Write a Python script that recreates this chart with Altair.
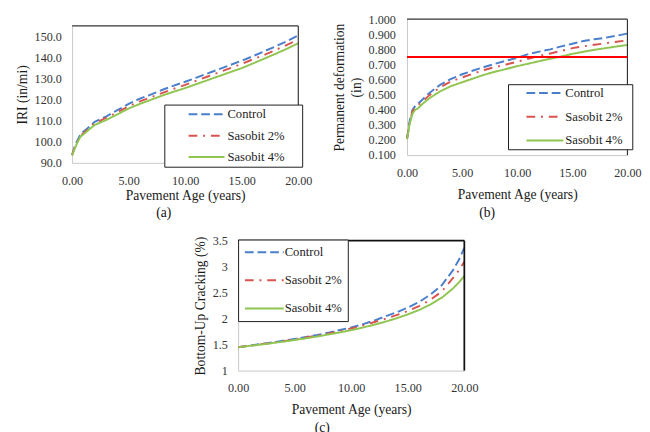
import altair as alt
import pandas as pd

series = ["Control", "Sasobit 2%", "Sasobit 4%"]
colors = ["#4A7FCB", "#D9534F", "#8FC550"]
dashes = [[9, 4], [9, 6, 2, 6], [1, 0]]
x_ticks = [0, 5, 10, 15, 20]

# (a) IRI
t_a = [0, 0.25, 0.5, 0.75, 1, 1.5, 2, 3, 4, 5, 6, 7, 8, 9, 10, 11, 12, 13, 14, 15, 16, 17, 18, 19, 20]
iri_control = [93.7, 98, 101, 103.5, 104.8, 107, 109.5, 112, 115, 118, 120.5, 122.5, 124.7, 126.7, 128.5,
               130.5, 132.5, 134.5, 136.5, 138.5, 140.7, 143, 145.3, 147.8, 150.5]
iri_s2 = [93.7, 97.5, 100.5, 103, 104, 106.5, 108.8, 111.3, 114, 116.8, 119.2, 121.2, 123.2, 125.2, 127,
          129, 131, 133, 135, 137, 139.2, 141.3, 143.6, 146, 148.5]
iri_s4 = [93.5, 97, 100, 102.5, 103.5, 105.8, 108, 110.3, 113, 115.8, 118, 120, 122, 123.8, 125.5,
          127.4, 129.3, 131.2, 133.1, 135, 137.2, 139.5, 141.8, 144.2, 146.8]
iri_ticks = [90, 100, 110, 120, 130, 140, 150]

# (b) Permanent deformation
t_b = t_a
pd_control = [0.21, 0.33, 0.40, 0.425, 0.44, 0.475, 0.51, 0.565, 0.605, 0.635, 0.66, 0.683, 0.705, 0.725,
              0.745, 0.768, 0.785, 0.80, 0.82, 0.837, 0.855, 0.867, 0.877, 0.89, 0.905]
pd_s2 = [0.21, 0.32, 0.39, 0.415, 0.43, 0.46, 0.495, 0.548, 0.588, 0.614, 0.64, 0.663, 0.683, 0.70,
         0.718, 0.738, 0.757, 0.773, 0.79, 0.808, 0.82, 0.83, 0.84, 0.85, 0.86]
pd_s4 = [0.205, 0.31, 0.375, 0.40, 0.41, 0.445, 0.475, 0.522, 0.557, 0.582, 0.607, 0.632, 0.652, 0.67,
         0.689, 0.705, 0.722, 0.738, 0.753, 0.77, 0.784, 0.797, 0.808, 0.819, 0.829]
pd_limit = 0.75
pd_ticks = [0.1, 0.2, 0.3, 0.4, 0.5, 0.6, 0.7, 0.8, 0.9, 1.0]

# (c) Bottom-up cracking
t_c = [0, 1, 2, 3, 4, 5, 6, 7, 8, 9, 10, 11, 12, 13, 14, 15, 16, 17, 18, 19, 19.5, 20]
bu_control = [1.45, 1.48, 1.51, 1.54, 1.575, 1.61, 1.645, 1.685, 1.73, 1.78, 1.83, 1.89, 1.96, 2.04,
              2.12, 2.21, 2.32, 2.46, 2.64, 2.93, 3.12, 3.36]
bu_s2 = [1.45, 1.478, 1.506, 1.535, 1.566, 1.6, 1.636, 1.673, 1.715, 1.76, 1.81, 1.865, 1.93, 1.995,
         2.065, 2.145, 2.24, 2.36, 2.52, 2.78, 2.92, 3.09]
bu_s4 = [1.45, 1.475, 1.5, 1.528, 1.557, 1.588, 1.621, 1.656, 1.695, 1.735, 1.778, 1.826, 1.88, 1.94,
         2.005, 2.08, 2.165, 2.27, 2.40, 2.58, 2.69, 2.82]
bu_ticks = [1, 1.5, 2, 2.5, 3, 3.5]

FONT = "Liberation Serif"


def long_df(t, vals):
    rows = []
    for name, v in zip(series, vals):
        for ti, vi in zip(t, v):
            rows.append({"t": ti, "v": vi, "series": name})
    return pd.DataFrame(rows)


def panel(df, ytitle, ydom, yvals, yfmt, yrange, w, h, xtp, ylp, leg, ttl, toff, tdx,
          extra=None, frame_w=1.2, frame_c="#333333"):
    color = alt.Color("series:N", scale=alt.Scale(domain=series, range=colors), legend=leg)
    dash = alt.StrokeDash("series:N", scale=alt.Scale(domain=series, range=dashes), legend=leg)
    xaxis = alt.Axis(values=x_ticks, format=".2f", title="Pavement Age (years)",
                     titlePadding=xtp, labelOverlap=False, labelFlush=False,
                     labelFont=FONT, labelFontSize=12.5)
    yaxis = alt.Axis(values=yvals, format=yfmt, title=ytitle, labelOverlap=False,
                     labelFlush=False, labelPadding=ylp, labelFont=FONT, labelFontSize=12.5)
    xscale = alt.Scale(domain=[0, 20], nice=False)
    if yrange is not None:
        yscale = alt.Scale(domain=ydom, range=yrange, nice=False, zero=False)
    else:
        yscale = alt.Scale(domain=ydom, nice=False, zero=False)
    lines = alt.Chart(df).mark_line(strokeWidth=2).encode(
        x=alt.X("t:Q", scale=xscale, axis=xaxis),
        y=alt.Y("v:Q", scale=yscale, axis=yaxis),
        color=color, strokeDash=dash)
    frame_df = pd.DataFrame({"t": [0, 20], "fx2": [20, 20],
                             "v": [ydom[1], ydom[0]], "fy2": [ydom[1], ydom[1]]})
    frame = alt.Chart(frame_df).mark_rule(color=frame_c, strokeWidth=frame_w).encode(
        x=alt.X("t:Q", scale=xscale, axis=xaxis), x2="fx2",
        y=alt.Y("v:Q", scale=yscale, axis=yaxis), y2="fy2")
    layers = [lines, frame]
    if extra is not None:
        layers.append(extra(xscale, xaxis, yscale, yaxis))
    return alt.layer(*layers).properties(
        width=w, height=h,
        title=alt.TitleParams(ttl, orient="bottom", anchor="middle", frame="bounds",
                              offset=toff, dx=tdx, font=FONT, fontSize=14,
                              fontWeight="normal", color="#111111"))


def legend(lx, ly, pad, soff, slen, loff, rpad, clip, extra_w):
    kw = {}
    if extra_w > 0:
        # invisible right-side title only widens the framed legend box
        kw = dict(title=" ", titleOrient="right", titlePadding=extra_w, titleFontSize=2)
    else:
        kw = dict(title=None)
    return alt.Legend(orient="none", legendX=lx, legendY=ly, symbolType="stroke",
                      symbolSize=slen * slen, symbolStrokeWidth=2, padding=pad, symbolOffset=soff,
                      labelOffset=loff, rowPadding=rpad, clipHeight=clip, fillColor="white",
                      strokeColor="#1a1a1a", labelFont=FONT, labelFontSize=13, labelColor="#222222",
                      **kw)


df_a = long_df(t_a, [iri_control, iri_s2, iri_s4])
df_b = long_df(t_b, [pd_control, pd_s2, pd_s4])
df_c = long_df(t_c, [bu_control, bu_s2, bu_s4])

chart_a = panel(df_a, "IRI (in/mi)", [90, 155], iri_ticks, ".1f", [148, 7], 233, 148, 2, 11,
                legend(95, 88, 3, 21, 37, 2, 8, 14, 15), "(a)", 4, 0)

limit_df = pd.DataFrame({"t": [0], "lx2": [20], "v": [pd_limit]})


def limit_layer(xscale, xaxis, yscale, yaxis):
    return alt.Chart(limit_df).mark_rule(color="#FF0000", strokeWidth=2).encode(
        x=alt.X("t:Q", scale=xscale, axis=xaxis), x2="lx2",
        y=alt.Y("v:Q", scale=yscale, axis=yaxis))


chart_b = panel(df_b, ["Permanent deformation", "(in)"], [0.1, 1.0], pd_ticks, ".3f", None,
                227, 140, 9, 12, legend(104, 67, 2, 16, 38, 1, 10.5, 14, 8), "(b)", 5, 0,
                extra=limit_layer)

chart_c = panel(df_c, "Bottom-Up Cracking (%)", [1, 3.5], bu_ticks, "", None, 233, 134, 8.3, 11,
                legend(0, -1, 6, 0, 40, 0, 15, 14, 0), "(c)", 5, -14,
                frame_w=1.8, frame_c="#111111")

spacer = alt.Chart(pd.DataFrame({"s": []})).mark_point().properties(width=115, height=1)

indep = dict(color="independent", strokeDash="independent")
top = alt.hconcat(chart_a, chart_b, spacing=20).resolve_scale(**indep)
bottom = alt.hconcat(spacer, chart_c, spacing=10).resolve_scale(**indep)
chart = alt.vconcat(top, bottom, spacing=15).properties(
    padding={"left": 7, "top": -1, "right": 0, "bottom": 0}
).resolve_scale(**indep).configure(font=FONT).configure_view(
    stroke=None
).configure_axis(
    labelFont=FONT, labelFontSize=12.5, labelColor="#333333",
    titleFont=FONT, titleFontSize=14, titleFontWeight="normal", titleColor="#1a1a1a",
    domainColor="#C8C8C8", domainWidth=1, ticks=False, tickSize=0, grid=False,
    labelOverlap=False, labelFlush=False
).configure_legend(labelFont=FONT).configure_axisX(labelPadding=12).configure_axisY(
    titlePadding=5, titleLineHeight=17)

chart.save("out.html", embed_options={"renderer": "svg", "actions": False})
